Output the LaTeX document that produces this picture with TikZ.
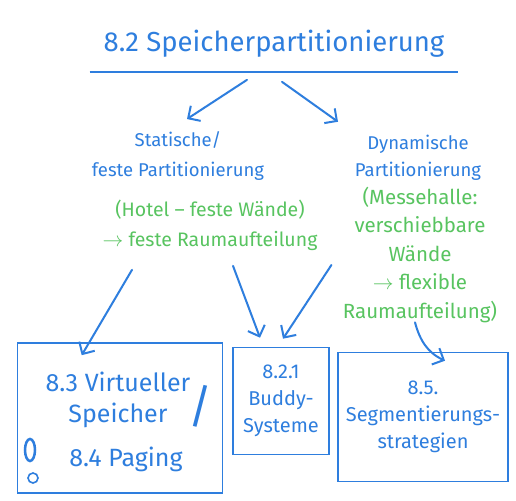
\documentclass[tikz,border=0pt]{standalone}
\usepackage{fontspec}
\setmainfont{Fira Sans}
\usetikzlibrary{arrows.meta,calc}
\definecolor{stiftblau}{RGB}{46,126,222}
\definecolor{stiftgruen}{RGB}{88,196,96}
\begin{document}
\begin{tikzpicture}[x=1pt,y=-1pt,
  schrift/.style={stiftblau,align=center,font=\fontsize{18.5}{30}\selectfont},
  notiz/.style={stiftgruen,align=center,font=\fontsize{19.5}{30}\selectfont},
  kasten/.style={draw=stiftblau,line width=1.6pt,stiftblau,align=center,inner sep=0pt,
    font=\fontsize{20}{27}\selectfont},
  pfeil/.style={stiftblau,line width=2pt,line cap=round,
    -{Straight Barb[length=9pt,width=18pt,line width=2pt]}}]
\useasboundingbox (0,0) rectangle (516,500);
\fill[white] (0,0) rectangle (516,500);
% Titel
\node[stiftblau,font=\fontsize{27.5}{30}\selectfont,inner xsep=14pt,inner ysep=14pt] (titel) at (274,44) {8.2 Speicherpartitionierung};
\draw[stiftblau,line width=2pt] (titel.south west) -- (titel.south east);
% Statisch
\node[schrift] (stat) at (178,156) {Statische/\\feste Partitionierung};
\node[notiz] (statnotiz) at (210,225) {(Hotel -- feste Wände)\\$\rightarrow$ feste Raumaufteilung};
% Dynamisch
\node[schrift,font=\fontsize{18.5}{27}\selectfont] (dyn) at (418,158) {Dynamische\\Partitionierung};
\node[notiz,font=\fontsize{20.5}{28.5}\selectfont] (dynnotiz) at (420,255) {(Messehalle:\\verschiebbare\\Wände\\$\rightarrow$ flexible\\Raumaufteilung)};
% Kaesten
\node[kasten,minimum width=205pt,minimum height=150pt,font=\fontsize{25}{31}\selectfont] (vm) at (120,418) {};
\node[stiftblau,align=center,font=\fontsize{25}{31}\selectfont] (vmtext) at (118,400) {8.3 Virtueller\\Speicher};
\node[stiftblau,font=\fontsize{25}{31}\selectfont] (paging) at (126,459) {8.4 Paging};
\node[stiftblau,font=\fontsize{46}{46}\selectfont] (strich) at (200,406) {/};
\node[kasten,minimum width=96pt,minimum height=107pt] (buddy) at (281,401) {8.2.1\\Buddy-\\Systeme};
\node[kasten,minimum width=170pt,minimum height=129pt] (seg) at (423,417) {8.5.\\Segmentierungs-\\strategien};
% Kringel
\draw[stiftblau,line width=2.5pt] (30,450) ellipse (5 and 11);
\draw[stiftblau,line width=1.6pt] (33,478) circle (5);
% Pfeile
\draw[pfeil] ([shift={(-27,8)}]titel.south) -- ([shift={(9,-9)}]stat.north);
\draw[pfeil] ([shift={(8,10)}]titel.south) -- ([shift={(-80,-10)}]dyn.north);
\draw[pfeil] ([shift={(-78,16)}]statnotiz.south) -- ([shift={(65,13)}]vm.north west);
\draw[pfeil] ([shift={(23,12)}]statnotiz.south) -- ([shift={(-21,-9)}]buddy.north);
\draw[pfeil] ([shift={(-8,10)}]dynnotiz.west) -- ([shift={(2,-8)}]buddy.north);
\draw[pfeil] ([shift={(-5,-4)}]dynnotiz.south) to[out=-75,in=155] ([shift={(22,9)}]seg.north);
\end{tikzpicture}
\end{document}
